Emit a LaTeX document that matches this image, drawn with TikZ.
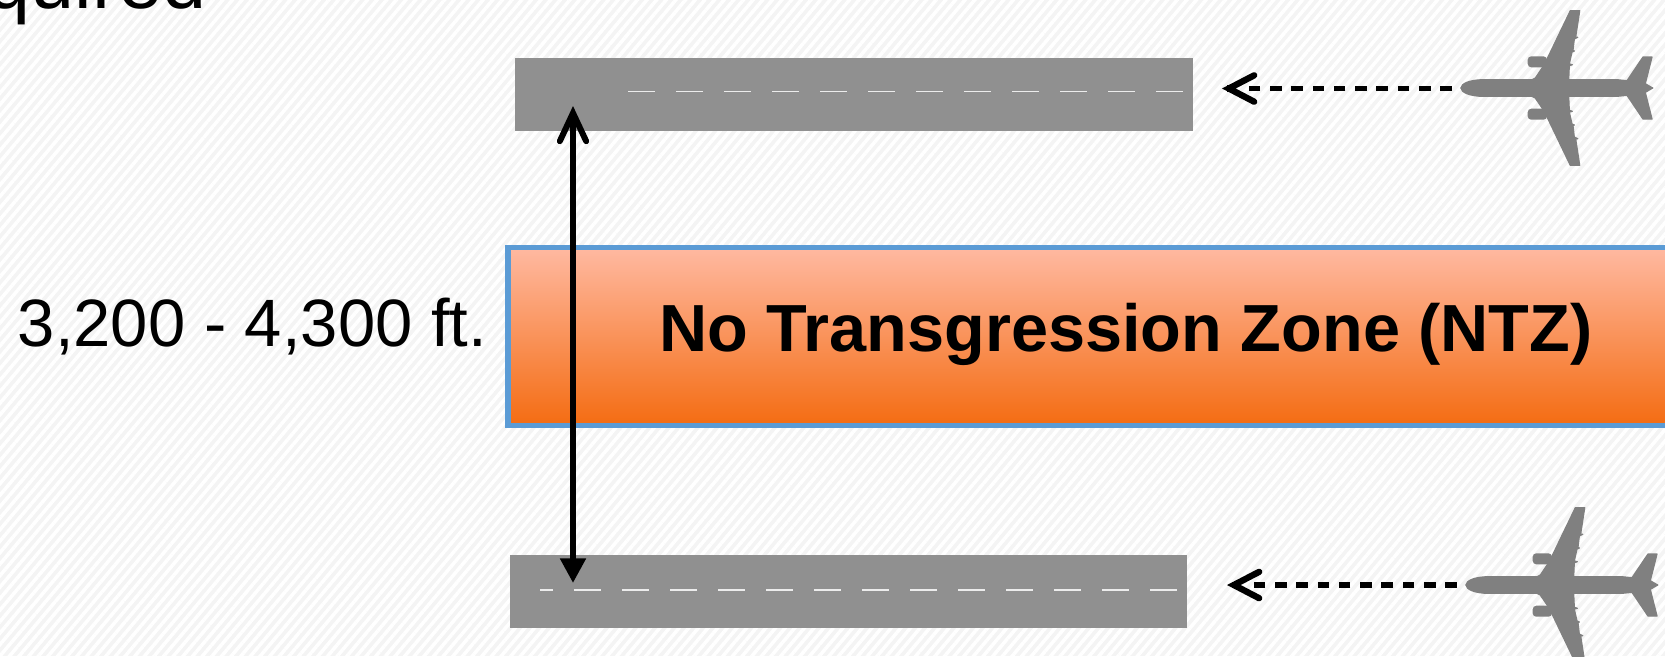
\documentclass[tikz,border=0pt]{standalone}
\usepackage{fontspec}
\setmainfont{Liberation Sans}
\usepackage{xcolor}
\usetikzlibrary{positioning,calc,arrows.meta,patterns.meta,shadows}
\definecolor{runwaygray}{HTML}{909090}
\definecolor{planegray}{HTML}{808080}
\definecolor{ntzblue}{HTML}{5B9BD5}
\definecolor{ntztop}{HTML}{FFB9A1}
\definecolor{ntzbottom}{HTML}{F46C12}
\definecolor{slidegray}{HTML}{F4F4F4}
\tikzset{
	plane/.pic={
		\foreach \side in {1,-1} {
			\path[fill=planegray,draw=planegray,line width=0.35pt,line join=round,yscale=\side] (0,0) .. controls (0,-4) and (8,-8.3) .. (22.7,-8.3) -- (71,-8.3) -- (74.3,-10) -- (83.3,-23.3) -- (109.3,-77.3) -- (118.7,-77.3) -- (114.7,-51) -- (116.7,-50.7) -- (113.3,-49) -- (112,-37.7) -- (113.3,-37) -- (111,-36) -- (108.3,-24) -- (111.3,-23.3) -- (108.3,-22.3) -- (107.7,-8.3) -- (156,-8.3) -- (166,-7.3) -- (182,-31) -- (191,-31) -- (184.3,-4.3) -- (191.7,0) -- cycle;
			\fill[planegray,yscale=\side,rounded corners=1pt] (66.7,-31.7) rectangle (86,-20.7);
		}
	},
	runwaydash/.style={draw=white!85!gray,line width=0.55pt,dash pattern=on 7.68pt off 5.97pt},
	approach/.style={line width=1.5pt,dash pattern=on 3.3pt off 2.76pt},
	approachtip/.style={line width=1.8pt,-{Straight Barb[length=7.2pt,width=7.5pt,line cap=round]}},
}
\begin{document}
\begin{tikzpicture}[x=0.01cm,y=-0.01cm]
	\useasboundingbox (0,0) rectangle (1665,656);
	\clip (0,0) rectangle (1665,656);

	\coordinate (RA) at (515,58);
	\coordinate (RB) at (1193,131);
	\coordinate (RC) at (510,555);
	\coordinate (RD) at (1187,628);
	\coordinate (NA) at (508,247.5);
	\coordinate (NB) at (1680,425.5);

	\fill[slidegray] (0,0) rectangle (1665,656);
	\fill[pattern={Lines[angle=50,distance=2.1pt,line width=1pt]},pattern color=white] (0,0) rectangle (1665,656);

	\fill[runwaygray] (RA) rectangle (RB);
	\fill[runwaygray] (RC) rectangle (RD);

	\draw[runwaydash] (628,91.5) -- (1184,91.5);
	\draw[runwaydash,dash phase=3.98pt] (540,590) -- (1181,590);

	\shade[top color=ntztop,bottom color=ntzbottom,draw=ntzblue,line width=1.5pt,drop shadow={shadow xshift=0.3pt,shadow yshift=-0.8pt,opacity=0.25}] (NA) rectangle (NB);

	\node[anchor=base] (NTZ) at (1126,351) {\fontsize{18.95}{22}\selectfont\bfseries No Transgression Zone (NTZ)};
	\node[anchor=base] (WIDTH) at (252.5,346) {\fontsize{19.05}{24}\selectfont 3,200 - 4,300 ft.};
	\node[anchor=base west,inner sep=0pt] (TITLE) at (-14,8) {\fontsize{22.5}{24}\selectfont quired};

	\coordinate (SPANTOP) at (573,106);
	\coordinate (SPANBOTTOM) at (573,583);
	\draw[line width=1.7pt,{Straight Barb[length=8pt,width=7.5pt,line cap=round]}-{Triangle[length=7pt,width=7pt]}] (SPANTOP) -- (SPANBOTTOM);

	\pic at (1461,88) {plane};
	\pic at (1466,585) {plane};

	\coordinate (TAILA) at (1452,88.5);
	\coordinate (STOPA) at (1248.6,88.5);
	\coordinate (BENDA) at (1227,88.5);
	\coordinate (HEADA) at (1222,88.5);
	\coordinate (TAILB) at (1457,585);
	\coordinate (STOPB) at (1253.6,585);
	\coordinate (BENDB) at (1232,585);
	\coordinate (HEADB) at (1227,585);

	\draw[approach] (TAILA) -- (STOPA);
	\draw[approachtip] (BENDA) -- (HEADA);
	\draw[approach] (TAILB) -- (STOPB);
	\draw[approachtip] (BENDB) -- (HEADB);
\end{tikzpicture}
\end{document}
